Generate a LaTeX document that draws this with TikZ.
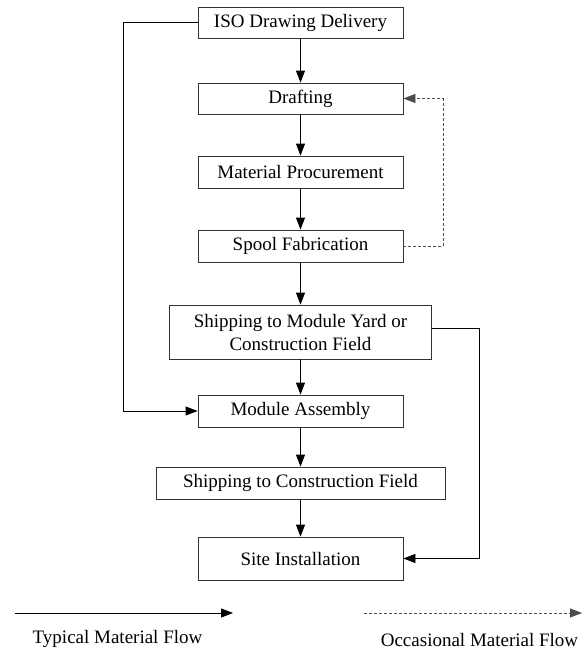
\documentclass[tikz,border=0pt]{standalone}
\usepackage{fontspec}
\setmainfont{Liberation Serif}
\usetikzlibrary{arrows.meta}
\begin{document}
\begin{tikzpicture}[x=1pt,y=-1pt,
  flowbox/.style={draw=black!80,line width=0.8pt,inner sep=0pt,align=center,
    font=\fontsize{19}{23}\selectfont},
  flow/.style={line width=0.8pt,-{Triangle[length=12pt,width=9pt]}},
  occasional/.style={flow,draw=black!70,dash pattern=on 3pt off 2pt},
  legendtext/.style={font=\fontsize{19}{23}\selectfont}]
\useasboundingbox (0,0) rectangle (584,654);

% process steps
\node[flowbox,minimum width=205pt,minimum height=31pt] (iso) at (300.5,22.5) {ISO Drawing Delivery};
\node[flowbox,minimum width=205pt,minimum height=31pt] (draft) at (300.5,98.5) {Drafting};
\node[flowbox,minimum width=205pt,minimum height=32pt] (proc) at (300.5,172) {Material Procurement};
\node[flowbox,minimum width=205pt,minimum height=32pt] (spool) at (300.5,246) {Spool Fabrication};
\node[flowbox,minimum width=262pt,minimum height=54pt] (ship) at (300.5,332) {Shipping to Module Yard or\\Construction Field};
\node[flowbox,minimum width=205pt,minimum height=32pt] (assm) at (300.5,411) {Module Assembly};
\node[flowbox,minimum width=289pt,minimum height=32pt] (shipcf) at (300.5,483) {Shipping to Construction Field};
\node[flowbox,minimum width=205pt,minimum height=43pt] (site) at (300.5,558.5) {Site Installation};

% main sequence
\draw[flow] (iso) -- (draft);
\draw[flow] (draft) -- (proc);
\draw[flow] (proc) -- (spool);
\draw[flow] (spool) -- (ship);
\draw[flow] (ship) -- (assm);
\draw[flow] (assm) -- (shipcf);
\draw[flow] (shipcf) -- (site);

% bypass routes
\draw[flow] (iso.west) -- (123,22.5) |- (assm.west);
\draw[flow] ([yshift=4pt]ship.east) -| (479,558.5) -- (site.east);
\draw[occasional] (spool.east) -| (443,98.5) -- (draft.east);

% legend
\coordinate (ls) at (15,613);
\coordinate (le) at (233,613);
\coordinate (ds) at (364,613);
\coordinate (de) at (582,613);
\draw[flow] (ls) -- (le);
\draw[occasional] (ds) -- (de);
\node[legendtext] (lt) at (117.5,639) {Typical Material Flow};
\node[legendtext] (dt) at (479.5,640) {Occasional Material Flow};
\end{tikzpicture}
\end{document}
